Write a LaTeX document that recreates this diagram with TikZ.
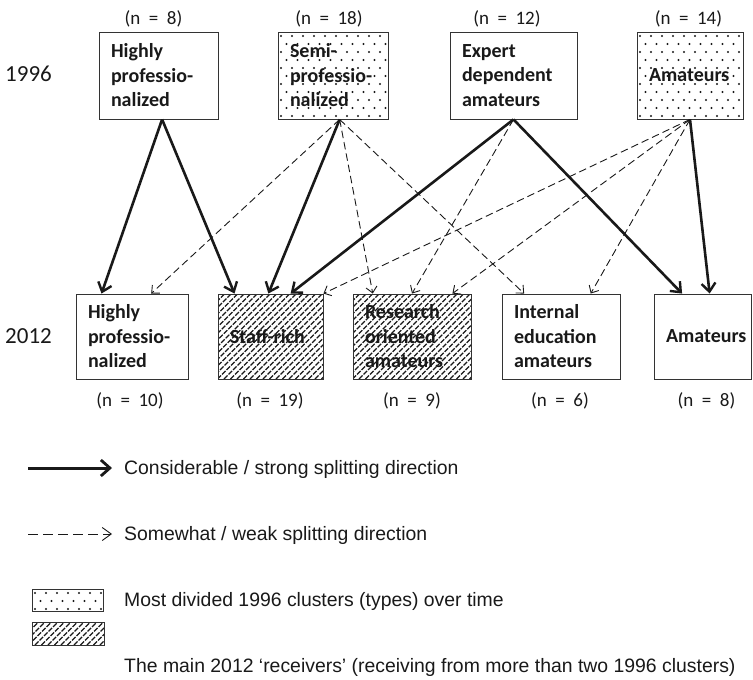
\documentclass[tikz,border=0pt]{standalone}
\usepackage{fontspec}
\setmainfont{Carlito}
\newfontfamily\arialf{Liberation Sans}
\usetikzlibrary{arrows.meta,calc}

\newcommand\nlab[1]{(n\kern0.45em=\kern0.45em#1)}

\newcommand\hatchrect[4]{%
  \begin{scope}
    \clip (#1,#2) rectangle (#3,#4);
    \pgfmathsetmacro\hstart{#1-(#4-#2)}
    \pgfmathsetmacro\hnext{\hstart+6.5}
    \foreach \c in {\hstart,\hnext,...,#3}
      \draw[hatchline] (\c,#4) -- ++({#4-#2+6},{-(#4-#2+6)});
  \end{scope}}

\newcommand\dotrect[4]{%
  \begin{scope}
    \clip (#1,#2) rectangle (#3,#4);
    \foreach \j in {0,...,12}
      \foreach \i in {0,...,12}
        \fill[black!90] ({#1+3+\i*11+mod(\j,2)*5.5},{#2+4+\j*8}) circle[radius=1.1];
  \end{scope}}

\begin{document}
\begin{tikzpicture}[x=1pt,y=-1pt,
  box/.style={draw=black!80, line width=0.9pt, inner xsep=12pt, inner ysep=0pt,
    align=left, font=\fontsize{20}{24.5}\selectfont\bfseries, text=black!90},
  toprow/.style={minimum height=87pt},
  botrow/.style={minimum height=85pt},
  nlabel/.style={font=\fontsize{19}{21}\selectfont, anchor=base, inner sep=0pt, text=black!90},
  yearlabel/.style={font=\fontsize{23}{25}\selectfont, anchor=base west, inner sep=0pt, text=black!90},
  strong/.style={line width=2.6pt, draw=black!90,
    -{Straight Barb[length=8.5pt,width=14pt,line width=2.4pt]}},
  weak/.style={line width=0.9pt, draw=black!90, dash pattern=on 7.5pt off 4pt,
    -{Straight Barb[length=6pt,width=11pt,line width=0.9pt]}},
  hatchline/.style={line width=1.3pt, black!90, dash pattern=on 5pt off 1.4pt},
  legtext/.style={font=\arialf\fontsize{19.4}{22}\selectfont, anchor=base west, inner sep=0pt, text=black!90},
  legbox/.style={draw=black!80, line width=0.9pt, inner sep=0pt}
]
\useasboundingbox (0,0) rectangle (753,680);

% patterns (drawn beneath the boxes)
\dotrect{278}{32}{388}{119}
\dotrect{637}{32}{743}{119}
\hatchrect{218}{294}{323}{379}
\hatchrect{353}{294}{471}{379}
\dotrect{32}{589}{103}{611}
\hatchrect{32}{622}{104}{645}

% 1996 row
\node[yearlabel] (y96) at (5,81) {1996};
\node[box, toprow, text width=95pt] (h96) at (158.5,75.5) {Highly\\professio-\\nalized};
\node[box, toprow, text width=86pt] (s96) at (333,75.5) {Semi-\\professio-\\nalized};
\node[box, toprow, text width=103pt] (e96) at (513.5,75.5) {Expert\\dependent\\amateurs};
\node[box, toprow, text width=82pt] (a96) at (690,75.5) {Amateurs};

\node[nlabel] (n1) at (153.5,24) {\nlab{8}};
\node[nlabel] (n2) at (329,24) {\nlab{18}};
\node[nlabel] (n3) at (507,24) {\nlab{12}};
\node[nlabel] (n4) at (688.5,24) {\nlab{14}};

% 2012 row
\node[yearlabel] (y12) at (5,343) {2012};
\node[box, botrow, text width=88pt] (h12) at (132,336.5) {Highly\\professio-\\nalized};
\node[box, botrow, text width=81pt] (st12) at (270.5,336.5) {Staff-rich};
\node[box, botrow, text width=94pt] (r12) at (412,336.5) {Research\\oriented\\amateurs};
\node[box, botrow, text width=94pt] (i12) at (561,336.5) {Internal\\education\\amateurs};
\node[box, botrow, text width=73.5pt] (a12) at (702.75,336.5) {Amateurs};

\node[nlabel] (m1) at (130,406) {\nlab{10}};
\node[nlabel] (m2) at (270,406) {\nlab{19}};
\node[nlabel] (m3) at (412,406) {\nlab{9}};
\node[nlabel] (m4) at (560,406) {\nlab{6}};
\node[nlabel] (m5) at (706.5,406) {\nlab{8}};

% connectors
\draw[strong] ($(h96.south west)!0.53!(h96.south east)$) -- ($(h12.north west)!0.23!(h12.north east)$);
\draw[strong] ($(h96.south west)!0.53!(h96.south east)$) -- ($(st12.north west)!0.16!(st12.north east)$);
\draw[weak] ($(s96.south west)!0.56!(s96.south east)$) -- ($(h12.north west)!0.67!(h12.north east)$);
\draw[strong] ($(s96.south west)!0.56!(s96.south east)$) -- ($(st12.north west)!0.48!(st12.north east)$);
\draw[weak] ($(s96.south west)!0.56!(s96.south east)$) -- ($(r12.north west)!0.17!(r12.north east)$);
\draw[weak] ($(s96.south west)!0.56!(s96.south east)$) -- ($(i12.north west)!0.19!(i12.north east)$);
\draw[strong] (e96.south) -- ($(st12.north west)!0.69!(st12.north east)$);
\draw[weak] (e96.south) -- (r12.north);
\draw[strong] (e96.south) -- ($(a12.north west)!0.29!(a12.north east)$);
\draw[weak] (a96.south) -- (st12.north east);
\draw[weak] (a96.south) -- ($(r12.north west)!0.84!(r12.north east)$);
\draw[weak] (a96.south) -- ($(i12.north west)!0.75!(i12.north east)$);
\draw[strong] (a96.south) -- ($(a12.north west)!0.57!(a12.north east)$);

% legend
\coordinate (la1) at (28,468);
\coordinate (lb1) at (112,468);
\draw[line width=3pt, draw=black!90, -{Straight Barb[length=9pt,width=16pt,line width=2.8pt]}] (la1) -- (lb1);
\node[legtext] (lt1) at (124,474) {Considerable / strong splitting direction};

\coordinate (la2) at (28,534);
\coordinate (lb2) at (112,534);
\draw[line width=0.9pt, draw=black!90, dash pattern=on 10pt off 5pt,
  -{Straight Barb[length=9pt,width=13pt,line width=0.9pt]}] (la2) -- (lb2);
\node[legtext] (lt2) at (124,540) {Somewhat / weak splitting direction};

\node[legbox, minimum width=71pt, minimum height=22pt] (ld) at (67.5,600) {};
\node[legtext] (lt3) at (124,606) {Most divided 1996 clusters (types) over time};
\node[legbox, minimum width=72pt, minimum height=23pt] (lh) at (68,633.5) {};
\node[legtext] (lt4) at (124,672) {The main 2012 ‘receivers’ (receiving from more than two 1996 clusters)};
\end{tikzpicture}
\end{document}
